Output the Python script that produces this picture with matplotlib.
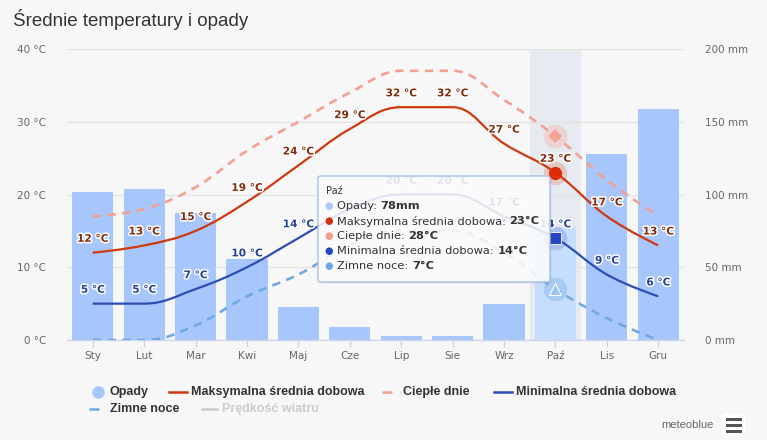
import numpy as np
import matplotlib
matplotlib.use('Agg')
import matplotlib.pyplot as plt
from matplotlib.path import Path
from matplotlib.patches import PathPatch, FancyBboxPatch, Rectangle
import matplotlib.patheffects as pe
from matplotlib.lines import Line2D

# ---------------- data ----------------
months = ['Sty', 'Lut', 'Mar', 'Kwi', 'Maj', 'Cze', 'Lip', 'Sie', 'Wrz', 'Paź', 'Lis', 'Gru']
precip = [102, 104, 87, 56, 23, 9, 3, 3, 25, 78, 128, 159]          # mm
t_max = [12, 13, 15, 19, 24, 29, 32, 32, 27, 23, 17, 13]            # °C
warm_days = [17, 18, 21, 26, 30, 34, 37, 37, 33, 28, 22, 17]        # °C
t_min = [5, 5, 7, 10, 14, 18, 20, 20, 17, 14, 9, 6]                 # °C
cold_nights = [0, 0, 2, 6, 9, 13, 15, 15, 12, 7, 3, 0]              # °C
temp_ticks = [0, 10, 20, 30, 40]
precip_ticks = [0, 50, 100, 150, 200]
hover_idx = 9

W, H = 767, 440
BG = '#f7f7f7'
C_BAR = '#a7c7fc'
C_BAR_HOVER = '#c6defd'
C_MAX = '#d0380f'
C_WARM = '#f2a092'
C_MIN = '#2c4db5'
C_COLD = '#72a7e3'
C_MAXLBL = '#7e2c0c'
C_MINLBL = '#24409a'


def fx(px):
    return px / W


def fy(py):
    return 1 - py / H


def hc_spline(xs, ys, smoothing=1.5):
    n = len(xs)
    den = smoothing + 1
    left = [None] * n
    right = [None] * n
    for i in range(1, n - 1):
        px, py = xs[i], ys[i]
        lx, ly = xs[i - 1], ys[i - 1]
        nx, ny = xs[i + 1], ys[i + 1]
        lcx = (smoothing * px + lx) / den
        lcy = (smoothing * py + ly) / den
        rcx = (smoothing * px + nx) / den
        rcy = (smoothing * py + ny) / den
        corr = ((rcy - lcy) * (rcx - px)) / (rcx - lcx) + py - rcy
        lcy += corr
        rcy += corr
        if lcy > ly and lcy > py:
            lcy = max(ly, py); rcy = 2 * py - lcy
        elif lcy < ly and lcy < py:
            lcy = min(ly, py); rcy = 2 * py - lcy
        if rcy > ny and rcy > py:
            rcy = max(ny, py); lcy = 2 * py - rcy
        elif rcy < ny and rcy < py:
            rcy = min(ny, py); lcy = 2 * py - rcy
        left[i] = (lcx, lcy)
        right[i] = (rcx, rcy)
    verts = [(xs[0], ys[0])]
    codes = [Path.MOVETO]
    for i in range(1, n):
        r = right[i - 1] if right[i - 1] is not None else (xs[i - 1], ys[i - 1])
        l = left[i] if left[i] is not None else (xs[i], ys[i])
        verts += [r, l, (xs[i], ys[i])]
        codes += [Path.CURVE4] * 3
    return Path(verts, codes)


plt.rcParams['font.family'] = ['DejaVu Sans']
fig = plt.figure(figsize=(W / 100, H / 100), dpi=100, facecolor=BG)
L, R, B, T = fx(67), fx(684), fy(340), fy(49)
ax = fig.add_axes([L, B, R - L, T - B])
ax2 = ax.twinx()
ax.set_zorder(2)
ax2.set_zorder(1)
ax.patch.set_visible(False)
ax2.patch.set_visible(False)

x = np.arange(len(months))

# precipitation axis (behind)
ax2.set_ylim(0, 200)
ax2.set_xlim(-0.5, 11.5)
ax2.axvspan(hover_idx - 0.5, hover_idx + 0.5, color='#e7ebf1', zorder=0.3, lw=0)
bar_colors = [C_BAR_HOVER if i == hover_idx else C_BAR for i in range(len(months))]
ax2.bar(x, precip, width=0.8, color=bar_colors, zorder=1, lw=0)
ax2.set_yticks(precip_ticks)
ax2.set_yticklabels([f'{v} mm' for v in precip_ticks])
ax2.set_axisbelow(True)
ax2.yaxis.grid(True, color='#e3e3e3', lw=1)
ax2.tick_params(axis='y', length=0, pad=15, labelsize=7.5, labelcolor='#666666')

# temperature axis
ax.set_ylim(0, 40)
ax.set_xlim(-0.5, 11.5)
ax.set_yticks(temp_ticks)
ax.set_yticklabels([f'{v} °C' for v in temp_ticks])
ax.tick_params(axis='y', length=0, pad=15, labelsize=7.5, labelcolor='#666666')
ax.set_xticks(x)
ax.set_xticklabels(months)
ax.tick_params(axis='x', length=5, width=1, color='#ccd6eb', pad=3, labelsize=7.5, labelcolor='#666666')
ax2.tick_params(axis='x', length=0)
for a in (ax, ax2):
    for s in ('top', 'left', 'right'):
        a.spines[s].set_visible(False)
ax2.spines['bottom'].set_visible(False)
ax.spines['bottom'].set_color('#ccd6eb')
ax.spines['bottom'].set_linewidth(1)

# lines
ax.add_patch(PathPatch(hc_spline(x, warm_days), fill=False, ec=C_WARM, lw=1.9,
                       ls=(0, (3.2, 2.4)), zorder=3, capstyle='butt'))
ax.add_patch(PathPatch(hc_spline(x, cold_nights), fill=False, ec=C_COLD, lw=1.9,
                       ls=(0, (3.2, 2.4)), zorder=3, capstyle='butt'))
ax.add_patch(PathPatch(hc_spline(x, t_max), fill=False, ec=C_MAX, lw=1.6, zorder=4))
ax.add_patch(PathPatch(hc_spline(x, t_min), fill=False, ec=C_MIN, lw=1.6, zorder=4))

# hover markers
hi = hover_idx
ax.plot([hi], [warm_days[hi]], 'o', ms=17, color=C_WARM, alpha=0.3, mew=0, zorder=5)
ax.plot([hi], [warm_days[hi]], 'D', ms=7, color='#f5a597', mew=0, zorder=6)
ax.plot([hi], [t_max[hi]], 'o', ms=17, color=C_MAX, alpha=0.2, mew=0, zorder=5)
ax.plot([hi], [t_max[hi]], 'o', ms=9.5, color='#de2c06', mew=0, zorder=6)
ax.plot([hi], [t_min[hi]], 'o', ms=17, color=C_MIN, alpha=0.2, mew=0, zorder=5)
ax.plot([hi], [t_min[hi]], 's', ms=8, color='#2547c2', mec='white', mew=0.6, zorder=6)
ax.plot([hi], [cold_nights[hi]], 'o', ms=17, color=C_COLD, alpha=0.35, mew=0, zorder=5)
ax.plot([hi], [cold_nights[hi]], '^', ms=9, color='#9cc4f0', mec='white', mew=0.8, zorder=6)

# data labels
halo = [pe.withStroke(linewidth=2.2, foreground='white')]
for i in range(len(months)):
    ax.annotate(f'{t_max[i]} °C', (x[i], t_max[i]), xytext=(0, 10), textcoords='offset points',
                ha='center', va='center', fontsize=7.6, fontweight='bold', color=C_MAXLBL,
                path_effects=halo, zorder=7)
    if i == 5:
        continue
    ax.annotate(f'{t_min[i]} °C', (x[i], t_min[i]), xytext=(0, 10), textcoords='offset points',
                ha='center', va='center', fontsize=7.6, fontweight='bold', color=C_MINLBL,
                path_effects=halo, zorder=7)

# title
fig.text(fx(13), fy(20), 'Średnie temperatury i opady', fontsize=13.5, color='#333333',
         family='Liberation Sans', va='center', ha='left')

# tooltip
tx0, ty0, tx1, ty1 = 318, 176, 550, 282
shadow = FancyBboxPatch((fx(tx0 + 1.5), fy(ty1 + 1.5)), fx(tx1 - tx0), (ty1 - ty0) / H,
                        boxstyle='round,pad=0,rounding_size=0.004', transform=fig.transFigure,
                        fc='#000000', ec='none', alpha=0.08, zorder=8)
fig.patches.append(shadow)
tip = FancyBboxPatch((fx(tx0), fy(ty1)), fx(tx1 - tx0), (ty1 - ty0) / H,
                     boxstyle='round,pad=0,rounding_size=0.004', transform=fig.transFigure,
                     fc=(1, 1, 1, 0.86), ec='#a9bfe3', lw=1, zorder=9)
fig.patches.append(tip)
fig.text(fx(326), fy(191), 'Paź', fontsize=7, color='#333333', va='center', zorder=10)
tip_rows = [
    ('#a9c9fb', 'Opady: ', f'{precip[hi]}mm'),
    ('#d4310c', 'Maksymalna średnia dobowa: ', f'{t_max[hi]}°C'),
    ('#f59a8b', 'Ciepłe dnie: ', f'{warm_days[hi]}°C'),
    ('#2548c0', 'Minimalna średnia dobowa: ', f'{t_min[hi]}°C'),
    ('#6ea6e6', 'Zimne noce: ', f'{cold_nights[hi]}°C'),
]
renderer = fig.canvas.get_renderer()
for k, (col, lab, val) in enumerate(tip_rows):
    yy = 206 + k * 15
    fig.text(fx(329), fy(yy), '●', fontsize=7, color=col, va='center', ha='center', zorder=10)
    t1 = fig.text(fx(337), fy(yy), lab, fontsize=8.2, color='#333333', va='center', zorder=10)
    bb = t1.get_window_extent(renderer=renderer)
    fig.text(bb.x1 / W, fy(yy), val, fontsize=8.2, color='#333333', va='center',
             fontweight='bold', zorder=10)

# legend
LEG_FS = 9
leg_font = dict(fontsize=LEG_FS, fontweight='bold', family='Liberation Sans', va='center', ha='left')
r1, r2 = 392, 409
fig.lines.append(Line2D([fx(98)], [fy(r1)], transform=fig.transFigure, marker='o', ms=9,
                        color=C_BAR, mew=0, ls='none'))
fig.text(fx(110), fy(r1), 'Opady', color='#333333', **leg_font)
fig.lines.append(Line2D([fx(169), fx(187)], [fy(r1), fy(r1)], transform=fig.transFigure, color=C_MAX, lw=1.8))
fig.text(fx(191), fy(r1), 'Maksymalna średnia dobowa', color='#333333', **leg_font)
fig.lines.append(Line2D([fx(382), fx(400)], [fy(r1), fy(r1)], transform=fig.transFigure, color=C_WARM, lw=1.8,
                        ls=(0, (4, 3, 1.2, 3))))
fig.text(fx(403), fy(r1), 'Ciepłe dnie', color='#333333', **leg_font)
fig.lines.append(Line2D([fx(494), fx(512)], [fy(r1), fy(r1)], transform=fig.transFigure, color=C_MIN, lw=1.8))
fig.text(fx(516), fy(r1), 'Minimalna średnia dobowa', color='#333333', **leg_font)
fig.lines.append(Line2D([fx(89), fx(106)], [fy(r2), fy(r2)], transform=fig.transFigure, color=C_COLD, lw=1.8,
                        ls=(0, (4, 3, 1.2, 3))))
fig.text(fx(110), fy(r2), 'Zimne noce', color='#333333', **leg_font)
fig.lines.append(Line2D([fx(202), fx(217)], [fy(r2), fy(r2)], transform=fig.transFigure, color='#cccccc', lw=1.8))
fig.text(fx(222), fy(r2), 'Prędkość wiatru', color='#cccccc', **leg_font)

# credits + menu
fig.text(fx(714), fy(425), 'meteoblue', fontsize=8, color='#666666', ha='right', va='center',
         family='Liberation Sans')
fig.patches.append(FancyBboxPatch((fx(723), fy(436)), fx(22), 22 / H,
                                  boxstyle='round,pad=0,rounding_size=0.004',
                                  transform=fig.transFigure, fc='white', ec='none'))
for yy in (419, 425, 431):
    fig.patches.append(Rectangle((fx(726), fy(yy + 1.5)), fx(16), 3 / H, transform=fig.transFigure,
                                 fc='#555555', ec='none'))

fig.savefig('out.png', dpi=100, facecolor=BG)
